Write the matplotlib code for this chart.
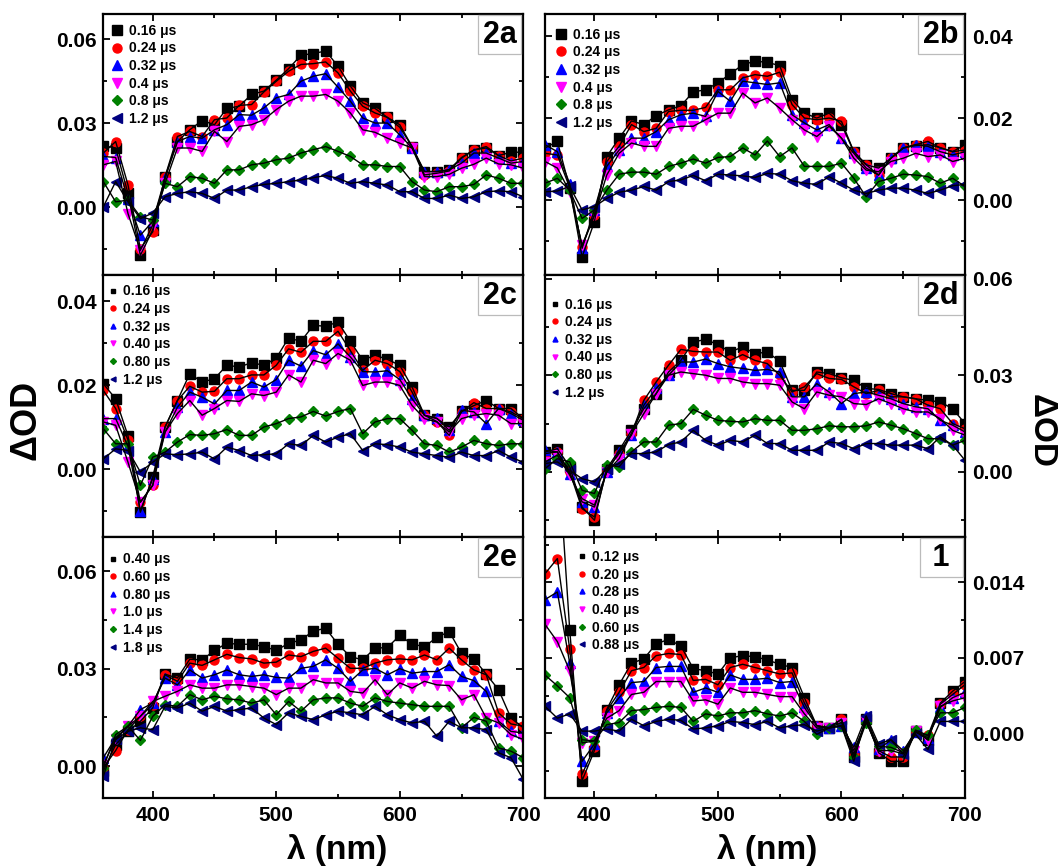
import matplotlib
matplotlib.use('Agg')
import matplotlib.pyplot as plt
from matplotlib.ticker import MultipleLocator, FormatStrFormatter

plt.rcParams['font.family'] = ['Liberation Sans', 'DejaVu Sans']
plt.rcParams['font.weight'] = 'bold'

# wavelength grid (nm)
wl = [360, 370, 380, 390, 400, 410, 420, 430, 440, 450, 460, 470, 480, 490, 500, 510, 520,
      530, 540, 550, 560, 570, 580, 590, 600, 610, 620, 630, 640, 650, 660, 670, 680, 690, 700]

# ---- panel 2a ----
labels_2a = ['0.16 μs', '0.24 μs', '0.32 μs', '0.4 μs', '0.8 μs', '1.2 μs']
a_k = [0.022, 0.0212, 0.005, -0.0171, -0.008, 0.011, 0.0235, 0.0277, 0.031, 0.0295, 0.0353, 0.0361, 0.0403, 0.0415, 0.0454, 0.0495, 0.0543,
       0.0549, 0.0558, 0.0504, 0.0433, 0.0373, 0.0353, 0.0321, 0.0295, 0.0217, 0.0128, 0.0128, 0.0135, 0.0178, 0.0205, 0.0212, 0.0185, 0.0197, 0.0197]
a_r = [0.0194, 0.0235, 0.008, -0.0147, -0.0087, 0.011, 0.0253, 0.0271, 0.0253, 0.0313, 0.0319, 0.0364, 0.0367, 0.0412, 0.045, 0.0486, 0.051,
       0.0513, 0.0519, 0.048, 0.0415, 0.0361, 0.0337, 0.0321, 0.0286, 0.0217, 0.0116, 0.0122, 0.013, 0.0176, 0.0205, 0.0217, 0.0185, 0.0166, 0.0176]
a_b = [0.0182, 0.0178, 0.003, -0.0099, -0.005, 0.0104, 0.0235, 0.0253, 0.0247, 0.0277, 0.0295, 0.0331, 0.0329, 0.0355, 0.0391, 0.0403, 0.045,
       0.0468, 0.0477, 0.0429, 0.0379, 0.0319, 0.0301, 0.0301, 0.0259, 0.0212, 0.0128, 0.0128, 0.0134, 0.0158, 0.0194, 0.0194, 0.0176, 0.0158, 0.0164]
a_m = [0.0152, 0.0164, -0.0022, -0.0153, -0.0063, 0.0086, 0.0212, 0.0212, 0.02, 0.0271, 0.0235, 0.0289, 0.0295, 0.0313, 0.0349, 0.0379, 0.0397,
       0.0397, 0.0403, 0.0379, 0.0337, 0.0277, 0.0268, 0.0247, 0.0229, 0.0212, 0.011, 0.011, 0.0118, 0.014, 0.0154, 0.0176, 0.0155, 0.0152, 0.014]
a_g = [0.0092, 0.002, 0.0026, -0.0033, -0.0045, 0.0086, 0.0074, 0.011, 0.0104, 0.0086, 0.0134, 0.0134, 0.0152, 0.0158, 0.017, 0.0176, 0.0194,
       0.0206, 0.0217, 0.02, 0.0182, 0.0152, 0.0152, 0.0146, 0.0146, 0.0092, 0.0062, 0.0056, 0.0074, 0.0074, 0.0082, 0.0116, 0.0104, 0.0086, 0.0086]
a_n = [0.0002, 0.0092, 0.002, -0.004, -0.002, 0.0038, 0.005, 0.0056, 0.005, 0.0032, 0.0062, 0.0062, 0.0074, 0.0082, 0.0086, 0.0092, 0.0098,
       0.0106, 0.0114, 0.0104, 0.0086, 0.0092, 0.0086, 0.008, 0.0056, 0.0056, 0.0032, 0.0032, 0.0044, 0.0032, 0.0038, 0.0056, 0.0059, 0.0056, 0.0038]

# ---- panel 2b ----
labels_2b = ['0.16 μs', '0.24 μs', '0.32 μs', '0.4 μs', '0.8 μs', '1.2 μs']
b_k = [0.0127, 0.0143, 0.003, -0.0139, -0.0053, 0.0106, 0.0151, 0.0193, 0.0184, 0.0206, 0.022, 0.023, 0.0264, 0.0269, 0.0286, 0.0308, 0.033,
       0.0339, 0.0336, 0.0328, 0.0245, 0.0212, 0.02, 0.0212, 0.0184, 0.0118, 0.0086, 0.0078, 0.0102, 0.0127, 0.0133, 0.0135, 0.0128, 0.0118, 0.0135]
b_r = [0.0114, 0.011, 0.003, -0.0114, -0.0037, 0.0094, 0.0131, 0.0184, 0.0167, 0.0175, 0.0216, 0.0219, 0.0219, 0.0226, 0.0269, 0.0269, 0.0298,
       0.0306, 0.0302, 0.0312, 0.0233, 0.02, 0.0196, 0.02, 0.0192, 0.0118, 0.0086, 0.0061, 0.0102, 0.0127, 0.0135, 0.0143, 0.0127, 0.0118, 0.0122]
b_b = [0.0135, 0.0118, 0.004, -0.0118, -0.0024, 0.0082, 0.0122, 0.0151, 0.0151, 0.0167, 0.0196, 0.0208, 0.0212, 0.0204, 0.0265, 0.0241, 0.029,
       0.0286, 0.0282, 0.0286, 0.0208, 0.0188, 0.0171, 0.0184, 0.0151, 0.0114, 0.0078, 0.0061, 0.0102, 0.0127, 0.0135, 0.0131, 0.0118, 0.011, 0.0118]
b_m = [0.0094, 0.0078, 0.002, -0.011, -0.0037, 0.0061, 0.0114, 0.0139, 0.0131, 0.0131, 0.0175, 0.018, 0.018, 0.0196, 0.0212, 0.0212, 0.0261,
       0.0237, 0.0249, 0.0224, 0.0196, 0.0171, 0.0155, 0.018, 0.0151, 0.0102, 0.0073, 0.0069, 0.0094, 0.0102, 0.0114, 0.0106, 0.011, 0.0094, 0.0102]
b_g = [0.0041, 0.0053, 0.0024, -0.0045, -0.0024, 0.0024, 0.0063, 0.0068, 0.0068, 0.0063, 0.0082, 0.009, 0.01, 0.009, 0.0104, 0.0106, 0.0127,
       0.011, 0.0144, 0.0106, 0.0127, 0.0082, 0.0082, 0.0082, 0.009, 0.0053, 0.0008, 0.0045, 0.0053, 0.0063, 0.0061, 0.0057, 0.0041, 0.0053, 0.0033]
b_n = [0.002, 0.0022, 0.0033, -0.0024, -0.0016, 0.0004, 0.0019, 0.0024, 0.0033, 0.0024, 0.0045, 0.0049, 0.006, 0.0047, 0.0063, 0.0061, 0.0059,
       0.0055, 0.0065, 0.0063, 0.0047, 0.0041, 0.0038, 0.0057, 0.0041, 0.0024, 0.0016, 0.0024, 0.0029, 0.0029, 0.0024, 0.0016, 0.0024, 0.0035, 0.0038]

# ---- panel 2c ----
labels_2c = ['0.16 μs', '0.24 μs', '0.32 μs', '0.40 μs', '0.80 μs', '1.2 μs']
c_k = [0.0204, 0.0168, 0.008, -0.0102, -0.0018, 0.0101, 0.0164, 0.0228, 0.0208, 0.0216, 0.0248, 0.0244, 0.0254, 0.0248, 0.0265, 0.0313, 0.0305,
       0.0343, 0.0341, 0.0351, 0.0305, 0.026, 0.0272, 0.0262, 0.0248, 0.0196, 0.0129, 0.0121, 0.0101, 0.0138, 0.0152, 0.0164, 0.0145, 0.0145, 0.0121]
c_r = [0.0188, 0.0145, 0.007, -0.0078, -0.0038, 0.0101, 0.0164, 0.0198, 0.0184, 0.0186, 0.0216, 0.0216, 0.0225, 0.0225, 0.0248, 0.0287, 0.0279,
       0.0305, 0.0305, 0.0329, 0.0283, 0.0236, 0.026, 0.0252, 0.0233, 0.0184, 0.0129, 0.0114, 0.0081, 0.0137, 0.0159, 0.0145, 0.0145, 0.0137, 0.0121]
c_b = [0.0121, 0.0121, 0.0055, -0.0098, -0.0022, 0.0089, 0.0148, 0.0184, 0.0172, 0.0156, 0.0188, 0.0188, 0.0208, 0.0196, 0.0214, 0.026, 0.0246,
       0.0283, 0.0273, 0.0299, 0.0268, 0.0233, 0.0232, 0.0235, 0.0214, 0.0168, 0.0129, 0.0122, 0.0093, 0.0141, 0.0137, 0.0109, 0.0145, 0.0133, 0.0117]
c_m = [0.0113, 0.0105, 0.0017, -0.0078, -0.0038, 0.0089, 0.0133, 0.0164, 0.0129, 0.0145, 0.0164, 0.0162, 0.018, 0.0176, 0.0184, 0.0225, 0.0208,
       0.026, 0.0252, 0.0276, 0.026, 0.02, 0.0208, 0.0208, 0.02, 0.0152, 0.0121, 0.0113, 0.0089, 0.0121, 0.0129, 0.0133, 0.0129, 0.0109, 0.0109]
c_g = [0.0097, 0.0061, 0.0061, -0.0038, 0.0029, 0.0041, 0.0065, 0.0083, 0.0081, 0.0085, 0.0095, 0.0081, 0.0081, 0.0101, 0.0109, 0.0121, 0.0125,
       0.0138, 0.0127, 0.0138, 0.0145, 0.0085, 0.0113, 0.0121, 0.0121, 0.0093, 0.0061, 0.0057, 0.0041, 0.0053, 0.0069, 0.0061, 0.0057, 0.0061, 0.0061]
c_n = [0.0025, 0.0049, 0.0045, -0.0006, 0.0017, 0.0037, 0.0035, 0.0037, 0.0041, 0.0025, 0.0053, 0.0045, 0.0033, 0.0035, 0.0037, 0.0061, 0.0057,
       0.0081, 0.0065, 0.0077, 0.0085, 0.0045, 0.0061, 0.0059, 0.0053, 0.0041, 0.0037, 0.0033, 0.0029, 0.0041, 0.0033, 0.0033, 0.0045, 0.0029, 0.0017]

# ---- panel 2d ----
labels_2d = ['0.16 μs', '0.24 μs', '0.32 μs', '0.40 μs', '0.80 μs', '1.2 μs']
d_k = [0.0062, 0.0072, 0.0016, -0.0109, -0.015, 0.001, 0.0067, 0.0129, 0.0196, 0.0243, 0.031, 0.0346, 0.0403, 0.0411, 0.0395, 0.0372, 0.0388,
       0.0367, 0.0372, 0.0343, 0.0253, 0.0253, 0.031, 0.0305, 0.0292, 0.0284, 0.0259, 0.0256, 0.0243, 0.0233, 0.0227, 0.0222, 0.0217, 0.0196, 0.015]
d_r = [0.0057, 0.0062, 0.0, -0.0114, -0.014, 0.0005, 0.0057, 0.0119, 0.0222, 0.0279, 0.0331, 0.038, 0.0374, 0.0372, 0.0372, 0.0346, 0.0364,
       0.0346, 0.0336, 0.03, 0.0248, 0.0264, 0.0305, 0.029, 0.0287, 0.0264, 0.0243, 0.0253, 0.0233, 0.0233, 0.0227, 0.0207, 0.0196, 0.015, 0.0134]
d_b = [0.0067, 0.0062, -0.0005, -0.0093, -0.0109, 0.0, 0.0062, 0.0114, 0.0207, 0.0259, 0.03, 0.0341, 0.0341, 0.035, 0.0336, 0.0326, 0.0321,
       0.0315, 0.0318, 0.031, 0.0233, 0.0233, 0.0274, 0.0248, 0.0212, 0.0243, 0.0248, 0.0238, 0.0227, 0.0212, 0.0202, 0.0196, 0.016, 0.0145, 0.0124]
d_m = [0.0031, 0.0052, -0.001, -0.0083, -0.0103, 0.0, 0.0041, 0.0119, 0.0181, 0.0243, 0.03, 0.031, 0.0305, 0.03, 0.029, 0.029, 0.0279,
       0.0274, 0.0274, 0.0269, 0.0217, 0.0196, 0.0248, 0.0238, 0.0233, 0.0212, 0.0209, 0.0227, 0.0212, 0.0196, 0.0186, 0.0186, 0.0165, 0.0129, 0.0114]
d_g = [0.001, 0.0041, 0.0031, -0.0057, -0.0067, 0.0021, 0.0016, 0.0062, 0.0093, 0.0093, 0.0145, 0.015, 0.0194, 0.0176, 0.016, 0.0157, 0.0155,
       0.0165, 0.016, 0.016, 0.0129, 0.0129, 0.0134, 0.0143, 0.014, 0.014, 0.0143, 0.0155, 0.0145, 0.0134, 0.0119, 0.0103, 0.0103, 0.0083, 0.0098]
d_n = [0.0026, 0.0031, 0.0005, -0.0021, -0.0031, 0.001, 0.0026, 0.0057, 0.0057, 0.0062, 0.0085, 0.0093, 0.0129, 0.0098, 0.0083, 0.0098, 0.0093,
       0.0114, 0.0088, 0.0088, 0.0067, 0.0067, 0.0067, 0.0093, 0.0088, 0.0072, 0.0088, 0.0088, 0.0083, 0.0083, 0.0083, 0.0072, 0.0109, 0.0083, 0.0036]

# ---- panel 2e ----
labels_2e = ['0.40 μs', '0.60 μs', '0.80 μs', '1.0 μs', '1.4 μs', '1.8 μs']
e_k = [-0.0015, 0.0066, 0.0107, 0.0138, 0.0179, 0.0283, 0.0271, 0.0329, 0.0327, 0.0356, 0.0378, 0.0375, 0.0375, 0.0368, 0.0356, 0.0378, 0.0388,
       0.0416, 0.0424, 0.0375, 0.0337, 0.0327, 0.0363, 0.0365, 0.0402, 0.0375, 0.0368, 0.0396, 0.0414, 0.0347, 0.033, 0.0283, 0.0235, 0.0148, 0.0118]
e_r = [-0.0005, 0.0048, 0.0112, 0.0153, 0.0189, 0.0281, 0.0261, 0.0317, 0.031, 0.0327, 0.0344, 0.0334, 0.033, 0.0317, 0.032, 0.0342, 0.0337,
       0.0353, 0.0363, 0.0332, 0.0301, 0.0301, 0.0317, 0.0327, 0.033, 0.0327, 0.0342, 0.0327, 0.0363, 0.0327, 0.0296, 0.0281, 0.0164, 0.013, 0.0123]
e_b = [0.0026, 0.0087, 0.0123, 0.0174, 0.0194, 0.0271, 0.025, 0.0296, 0.0271, 0.0281, 0.0296, 0.0281, 0.0276, 0.0281, 0.0273, 0.0271, 0.0301,
       0.0307, 0.0327, 0.0301, 0.0261, 0.0296, 0.0301, 0.0281, 0.03, 0.0286, 0.0291, 0.0291, 0.0312, 0.0276, 0.0263, 0.023, 0.0138, 0.0107, 0.0102]
e_m = [0.0005, 0.0082, 0.0123, 0.0153, 0.0199, 0.0215, 0.023, 0.025, 0.024, 0.024, 0.025, 0.025, 0.0245, 0.024, 0.022, 0.024, 0.024,
       0.0266, 0.0256, 0.0256, 0.023, 0.0225, 0.0266, 0.022, 0.0256, 0.024, 0.0261, 0.025, 0.0248, 0.0204, 0.022, 0.0148, 0.0133, 0.0097, 0.0082]
e_g = [-0.0005, 0.0097, 0.0123, 0.0079, 0.0153, 0.0189, 0.0184, 0.022, 0.0204, 0.0215, 0.0207, 0.0204, 0.0194, 0.0204, 0.0158, 0.0199, 0.0169,
       0.0204, 0.021, 0.021, 0.0194, 0.0184, 0.021, 0.0199, 0.0194, 0.0189, 0.0184, 0.0184, 0.0184, 0.0118, 0.015, 0.0138, 0.0056, 0.0046, 0.0026]
e_n = [-0.0031, 0.0082, 0.0107, 0.0118, 0.0112, 0.0184, 0.0179, 0.0194, 0.0169, 0.0184, 0.0169, 0.0174, 0.0179, 0.0148, 0.0128, 0.0164, 0.0153,
       0.0143, 0.0158, 0.0169, 0.0164, 0.0158, 0.0184, 0.0158, 0.0143, 0.0133, 0.0138, 0.0092, 0.0138, 0.0118, 0.0118, 0.0112, 0.0041, 0.0026, -0.0041]

# ---- panel 1 ----
labels_1 = ['0.12 μs', '0.20 μs', '0.28 μs', '0.40 μs', '0.60 μs', '0.88 μs']
f_k = [0.030, 0.027, 0.0096, -0.0044, -0.0016, 0.0022, 0.0045, 0.0065, 0.0069, 0.0083, 0.0087, 0.0081, 0.006, 0.0058, 0.0055, 0.007, 0.0072,
       0.0071, 0.0068, 0.0064, 0.0061, 0.0033, 0.0007, 0.0005, 0.0013, -0.0022, 0.0013, -0.0018, -0.0026, -0.0026, 0.0002, -0.0006, 0.0028, 0.0039, 0.0048]
f_r = [0.0148, 0.0162, 0.0078, -0.0038, -0.0013, 0.0021, 0.0038, 0.0058, 0.0061, 0.0072, 0.0074, 0.0073, 0.0049, 0.005, 0.0045, 0.0061, 0.0064,
       0.0061, 0.0058, 0.0055, 0.0056, 0.0028, 0.0007, 0.0005, 0.0013, -0.0019, 0.0011, -0.0016, -0.0022, -0.0022, 0.0001, -0.0002, 0.0027, 0.0036, 0.0045]
f_b = [0.0124, 0.0131, 0.0065, -0.0026, -0.001, 0.0019, 0.0033, 0.0047, 0.0048, 0.0061, 0.0062, 0.0062, 0.0038, 0.0042, 0.0038, 0.0054, 0.005,
       0.005, 0.0051, 0.0047, 0.0048, 0.0024, 0.0007, 0.0005, 0.0007, -0.0013, 0.0016, -0.0015, -0.0006, -0.0016, 0.0001, -0.0004, 0.0024, 0.0033, 0.0038]
f_m = [0.0101, 0.0085, 0.0058, -0.0009, -0.0007, 0.0014, 0.0021, 0.0036, 0.0038, 0.0048, 0.0048, 0.0048, 0.003, 0.0031, 0.0027, 0.0042, 0.0038,
       0.0038, 0.0036, 0.0034, 0.0034, 0.0018, 0.0005, 0.0005, 0.001, -0.0016, 0.0011, -0.0016, -0.0016, -0.0019, 0.0002, -0.0006, 0.0025, 0.003, 0.0033]
f_g = [0.0054, 0.0044, 0.0033, -0.0006, -0.0007, 0.0008, 0.001, 0.0021, 0.0022, 0.0024, 0.0025, 0.0024, 0.0011, 0.0018, 0.0016, 0.0019, 0.0019,
       0.0021, 0.0018, 0.0016, 0.0019, 0.0011, -0.0001, 0.0005, 0.0007, -0.0022, 0.001, -0.0012, -0.0013, -0.0018, 0.0003, -0.0002, 0.0019, 0.0019, 0.0024]
f_n = [0.0025, 0.0014, 0.0018, 0.0002, 0.0002, 0.0004, 0.0002, 0.0013, 0.0007, 0.0011, 0.0013, 0.0012, 0.0004, 0.0005, 0.0007, 0.0011, 0.001,
       0.0008, 0.0011, 0.0005, 0.0007, 0.0008, 0.0002, 0.0005, 0.0007, -0.0026, 0.0016, -0.001, -0.0006, -0.0019, -0.0001, -0.0015, 0.0011, 0.0011, 0.0011]

markers = ['s', 'o', '^', 'v', 'D', '<']
colours = ['black', 'red', 'blue', 'magenta', 'green', 'navy']


def draw_panel(ax, series, labels, tag, ylim, major, fmt, legend_at, right=False, small_legend=False, xlabels=False):
    for vals, lab, m, c in zip(series, labels, markers, colours):
        ms = 5.5 if m == 'D' else 6.5
        ax.plot(wl, vals, ls='none', marker=m, ms=ms, color=c, mec=c, label=lab, zorder=2)
        ax.plot(wl, vals, color='black', lw=1.0, zorder=3)

    ax.set_xlim(360, 700)
    ax.set_ylim(*ylim)
    ax.xaxis.set_major_locator(MultipleLocator(100))
    ax.xaxis.set_minor_locator(MultipleLocator(50))
    ax.yaxis.set_major_locator(MultipleLocator(major))
    ax.yaxis.set_minor_locator(MultipleLocator(major / 2))
    ax.yaxis.set_major_formatter(FormatStrFormatter(fmt))

    ax.tick_params(which='both', direction='in', top=True, bottom=True, left=True, right=True,
                   width=1.3, labelsize=15)
    ax.tick_params(which='major', length=5)
    ax.tick_params(which='minor', length=3)
    ax.tick_params(axis='x', labelbottom=xlabels, pad=6)
    if right:
        ax.tick_params(axis='y', labelleft=False, labelright=True, pad=5)
    else:
        ax.tick_params(axis='y', pad=5)
    for lbl in ax.get_xticklabels() + ax.get_yticklabels():
        lbl.set_fontweight('bold')
    for sp in ax.spines.values():
        sp.set_linewidth(1.6)

    if small_legend:
        ax.legend(loc='upper left', bbox_to_anchor=legend_at, frameon=False, markerscale=0.55,
                  handlelength=0.5, handletextpad=0.45, labelspacing=0.26, borderaxespad=0,
                  borderpad=0.4, prop={'size': 10, 'weight': 'bold'})
    else:
        ax.legend(loc='upper left', bbox_to_anchor=legend_at, frameon=False, markerscale=1.0,
                  handlelength=0.9, handletextpad=0.4, labelspacing=0.26, borderaxespad=0,
                  borderpad=0.35, prop={'size': 10, 'weight': 'bold'})
    ax.text(0.984, 0.978, tag, transform=ax.transAxes, ha='right', va='top', fontsize=22,
            fontweight='bold', zorder=5,
            bbox=dict(boxstyle='square,pad=0.15', fc='white', ec='#bbbbbb', lw=0.9))


fig = plt.figure(figsize=(10.59, 8.66), dpi=100)

left_x, right_x, width = 103.3 / 1059, 545 / 1059, 420 / 1059
row_edges = [14, 275, 537, 798]
rows = [(1 - row_edges[i + 1] / 866, (row_edges[i + 1] - row_edges[i]) / 866) for i in range(3)]

ax_a = fig.add_axes([left_x, rows[0][0], width, rows[0][1]])
ax_b = fig.add_axes([right_x, rows[0][0], width, rows[0][1]])
ax_c = fig.add_axes([left_x, rows[1][0], width, rows[1][1]])
ax_d = fig.add_axes([right_x, rows[1][0], width, rows[1][1]])
ax_e = fig.add_axes([left_x, rows[2][0], width, rows[2][1]])
ax_f = fig.add_axes([right_x, rows[2][0], width, rows[2][1]])

draw_panel(ax_a, [a_k, a_r, a_b, a_m, a_g, a_n], labels_2a, '2a', (-0.0241, 0.069), 0.03, '%.2f',
           (0.007, 0.981))
draw_panel(ax_b, [b_k, b_r, b_b, b_m, b_g, b_n], labels_2b, '2b', (-0.0183, 0.0454), 0.02, '%.2f',
           (0.011, 0.966), right=True)
draw_panel(ax_c, [c_k, c_r, c_b, c_m, c_g, c_n], labels_2c, '2c', (-0.0161, 0.0463), 0.02, '%.2f',
           (0.002, 0.985), small_legend=True)
draw_panel(ax_d, [d_k, d_r, d_b, d_m, d_g, d_n], labels_2d, '2d', (-0.0202, 0.0611), 0.03, '%.2f',
           (0.002, 0.935), right=True, small_legend=True)
draw_panel(ax_e, [e_k, e_r, e_b, e_m, e_g, e_n], labels_2e, '2e', (-0.0098, 0.0705), 0.03, '%.2f',
           (0.002, 0.962), small_legend=True, xlabels=True)
draw_panel(ax_f, [f_k, f_r, f_b, f_m, f_g, f_n], labels_1, ' 1 ', (-0.006, 0.0182), 0.007, '%.3f',
           (0.067, 0.971), right=True, small_legend=True, xlabels=True)

fig.text(26 / 1059, 1 - 420 / 866, 'ΔOD', rotation=90, ha='center', va='center', fontsize=26, fontweight='bold')
fig.text(1041 / 1059, 1 - 431 / 866, 'ΔOD', rotation=270, ha='center', va='center', fontsize=24, fontweight='bold')
fig.text(337 / 1059, 1 - 850 / 866, 'λ (nm)', ha='center', va='center', fontsize=24, fontweight='bold')
fig.text(767 / 1059, 1 - 850 / 866, 'λ (nm)', ha='center', va='center', fontsize=24, fontweight='bold')

fig.savefig('out.png', dpi=100)
